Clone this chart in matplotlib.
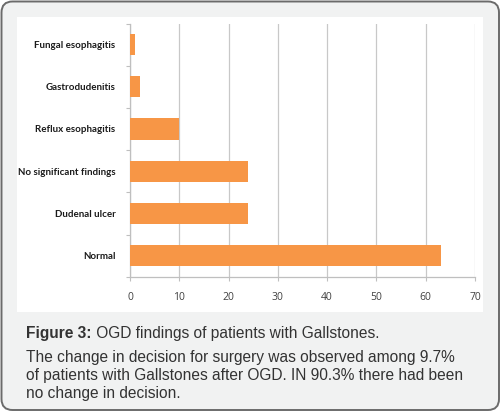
import matplotlib
matplotlib.use("Agg")
import matplotlib.pyplot as plt
from matplotlib.patches import FancyBboxPatch, Rectangle

categories = ["Normal", "Dudenal ulcer", "No significant findings",
              "Reflux esophagitis", "Gastrodudenitis", "Fungal esophagitis"]
values = [63, 24, 24, 10, 2, 1]
xticks = [0, 10, 20, 30, 40, 50, 60, 70]
caption_bold = "Figure 3:"
caption_rest = " OGD findings of patients with Gallstones."
caption_lines = ["The change in decision for surgery was observed among 9.7%",
                 "of patients with Gallstones after OGD. IN 90.3% there had been",
                 "no change in decision."]

W, H = 501, 412
fig = plt.figure(figsize=(W / 100, H / 100), dpi=100)

# background panel in pixel coordinates
bg = fig.add_axes([0, 0, 1, 1])
bg.set_xlim(0, W)
bg.set_ylim(H, 0)
bg.axis("off")
bg.add_patch(FancyBboxPatch((1.5, 1.5), W - 3.5, H - 3.5,
                            boxstyle="round,pad=0,rounding_size=11",
                            facecolor="#f1f2f2", edgecolor="#6b6b6b", lw=1.4))
bg.add_patch(Rectangle((17, 17), 466, 295, facecolor="white", edgecolor="none"))

# chart axes
left, right, top, bottom = 130, 475, 23.5, 276.7
ax = fig.add_axes([left / W, 1 - bottom / H, (right - left) / W, (bottom - top) / H])
ax.set_facecolor("none")
pos = list(range(len(categories)))
ax.barh(pos, values, height=0.5, color="#f79646", zorder=3)
ax.set_xlim(0, 70)
ax.set_ylim(-0.5, len(categories) - 0.5)
ax.set_xticks(xticks)
ax.set_xticklabels([str(t) for t in xticks], fontsize=7.5, color="#404040",
                   family=["Open Sans", "DejaVu Sans"])
ax.set_yticks([p - 0.5 for p in pos] + [len(categories) - 0.5])
ax.set_yticklabels([])
ax.set_yticks(pos, minor=True)
ax.set_yticklabels(categories, minor=True, fontsize=7.0, fontweight="bold",
                   family=["Lato", "DejaVu Sans"], color="#1a1a1a")
ax.tick_params(axis="y", which="minor", length=0, pad=10.5)
ax.tick_params(axis="y", which="major", length=3, color="#bfbfbf")
ax.tick_params(axis="x", length=3, color="#bfbfbf", pad=8)
ax.grid(axis="x", color="#c8c8c8", lw=0.9, zorder=0)
for s in ["top", "right"]:
    ax.spines[s].set_visible(False)
for s in ["left", "bottom"]:
    ax.spines[s].set_color("#bfbfbf")
    ax.spines[s].set_linewidth(0.9)

# caption
fs = 11.2
fam = ["Liberation Sans", "DejaVu Sans"]
tb = fig.text(26 / W, 1 - 337.7 / H, caption_bold, fontsize=fs, fontweight="bold",
              color="#333333", va="baseline", ha="left", family=fam)
fig.canvas.draw()
ext = tb.get_window_extent()
fig.text(ext.x1 / W, 1 - 337.7 / H, caption_rest, fontsize=fs, color="#333333",
         va="baseline", ha="left", family=fam)
for line, yb in zip(caption_lines, [361.7, 380.0, 398.3]):
    fig.text(26 / W, 1 - yb / H, line, fontsize=fs, color="#333333",
             va="baseline", ha="left", family=fam)

fig.savefig("out.png", dpi=100)
